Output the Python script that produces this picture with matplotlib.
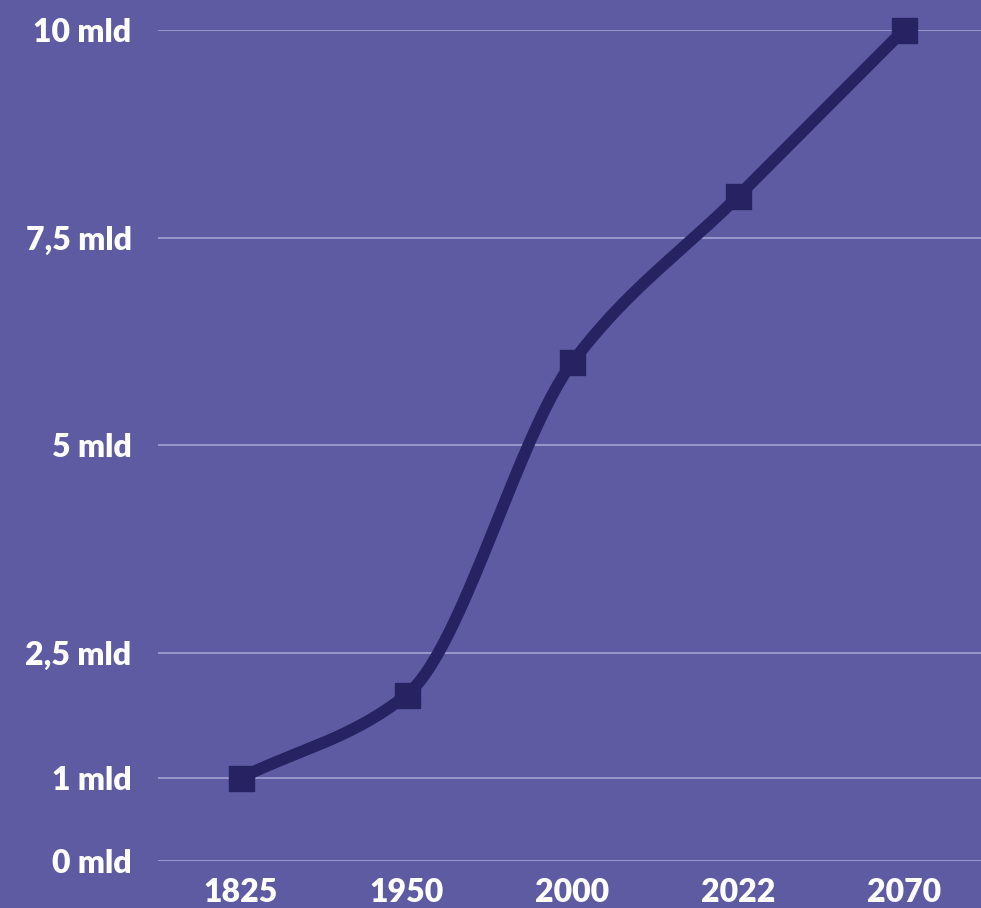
import numpy as np
import matplotlib
matplotlib.use("Agg")
import matplotlib.pyplot as plt

# dane: populacja świata (mld)
years = ["1825", "1950", "2000", "2022", "2070"]
population = [1, 2, 6, 8, 10]
ytick_values = [0, 1, 2.5, 5, 7.5, 10]
ytick_labels = ["0 mld", "1 mld", "2,5 mld", "5 mld", "7,5 mld", "10 mld"]

bg = "#5E5BA3"
line_color = "#272262"
grid_color = "#A3A1D2"


def monotone_curve(x, y, n=60):
    # Fritsch-Carlson monotone cubic interpolation
    x = np.asarray(x, float)
    y = np.asarray(y, float)
    h = np.diff(x)
    d = np.diff(y) / h
    m = np.zeros_like(y)
    m[0], m[-1] = d[0], d[-1]
    for i in range(1, len(y) - 1):
        if d[i - 1] * d[i] <= 0:
            m[i] = 0
        else:
            w1 = 2 * h[i] + h[i - 1]
            w2 = h[i] + 2 * h[i - 1]
            m[i] = (w1 + w2) / (w1 / d[i - 1] + w2 / d[i])
    xs, ys = [], []
    for i in range(len(h)):
        t = np.linspace(0, 1, n)
        h00 = 2 * t**3 - 3 * t**2 + 1
        h10 = t**3 - 2 * t**2 + t
        h01 = -2 * t**3 + 3 * t**2
        h11 = t**3 - t**2
        xs.append(x[i] + t * h[i])
        ys.append(h00 * y[i] + h10 * h[i] * m[i] + h01 * y[i + 1] + h11 * h[i] * m[i + 1])
    return np.concatenate(xs), np.concatenate(ys)


plt.rcParams['font.family'] = ['Lato', 'DejaVu Sans']

fig = plt.figure(figsize=(9.81, 9.08), dpi=100)
fig.patch.set_facecolor(bg)
ax = fig.add_axes([158 / 981, 47 / 908, 823 / 981, 831 / 908])
ax.set_facecolor(bg)

xpos = np.arange(len(years))
sx, sy = monotone_curve(xpos, population)
ax.plot(sx, sy, color=line_color, lw=8.5, solid_capstyle="butt", clip_on=False, zorder=3)
ax.plot(xpos, population, ls="none", marker="s", ms=18, color=line_color, clip_on=False, zorder=4)

ax.set_xlim(-0.5, 4.465)
ax.set_ylim(0, 10)
ax.set_yticks(ytick_values)
ax.set_yticklabels(ytick_labels)
ax.set_xticks(xpos)
ax.set_xticklabels(years)
ax.grid(axis="y", color=grid_color, lw=1.2)
ax.set_axisbelow(True)
ax.tick_params(length=0, colors="white", labelsize=23)
ax.tick_params(axis="y", pad=19)
ax.tick_params(axis="x", pad=12)
for lbl in ax.get_xticklabels() + ax.get_yticklabels():
    lbl.set_fontweight("heavy")
for s in ax.spines.values():
    s.set_visible(False)

fig.savefig("out.png", dpi=100, facecolor=bg)
